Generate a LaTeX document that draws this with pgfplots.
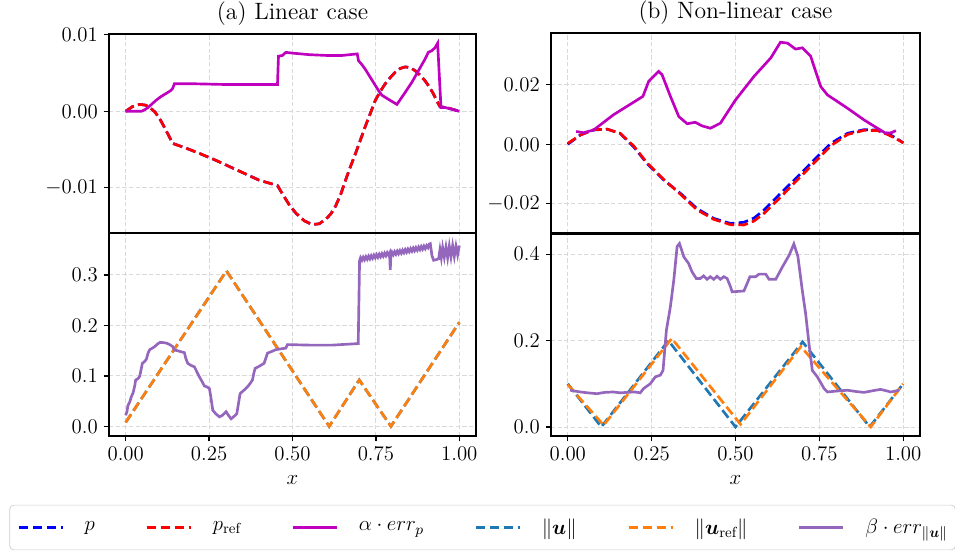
\documentclass[border=0pt]{standalone}
\usepackage{fix-cm}
\usepackage{fontspec}
\usepackage{amsmath}
\usepackage{bm}
\usepackage{pgfplots}
\pgfplotsset{compat=1.18}
\definecolor{mpblue}{HTML}{1F77B4}
\definecolor{mporange}{HTML}{FF7F0E}
\definecolor{mppurple}{HTML}{9467BD}
\definecolor{mpmag}{rgb}{0.75,0,0.75}
\newcommand\tfont{\fontsize{12.5}{15}\selectfont}
\pgfplotsset{
  panel/.style={
    scale only axis, anchor=south west,
    xmin=-0.05, xmax=1.05,
    xtick={0,0.25,0.5,0.75,1},
    scaled y ticks=false, scaled x ticks=false,
    grid=major, major grid style={dash pattern=on 2.5pt off 1.5pt, gray!30, line width=0.5pt},
    axis line style={line width=1.2pt},
    tick align=outside, tick pos=left,
    major tick length=3.2pt,
    tick style={line width=0.8pt, black},
    tick label style={font=\tfont},
    label style={font=\tfont},
    xlabel style={at={(0.5,0)}, anchor=base, yshift=-29pt},
  },
  top/.style={xticklabels={}, xtick style={draw=none}},
  bot/.style={xticklabels={$0.00$,$0.25$,$0.50$,$0.75$,$1.00$}, xlabel={$x$}},
  dl/.style={line width=1.6pt, dash pattern=on 5.8pt off 2.6pt},
  sl/.style={line width=1.6pt},
}
\begin{document}
\begin{tikzpicture}
\useasboundingbox (0,0) rectangle (573pt,331.2pt);
% ---------------- (a) top
\begin{axis}[panel, top, name=tl, at={(65.4pt,191.4pt)}, width=220.2pt, height=119.4pt,
  ymin=-0.0159, ymax=0.0101, ytick={-0.01,0,0.01}, yticklabels={$-0.01$,$0.00$,$0.01$}]
\addplot[blue, dl] coordinates {
(0,0) (0.02,0.0006) (0.042,0.0009) (0.06,0.0008) (0.075,0.0004) (0.088,-0.0001) (0.105,-0.0012)
(0.121,-0.0025) (0.141,-0.0042) (0.18,-0.0048) (0.221,-0.0055) (0.27,-0.0064) (0.32,-0.0074)
(0.36,-0.0082) (0.40,-0.0090) (0.455,-0.0097) (0.47,-0.0108) (0.49,-0.0122) (0.51,-0.0133)
(0.535,-0.0143) (0.559,-0.0148) (0.58,-0.0147) (0.60,-0.0141) (0.615,-0.0134) (0.629,-0.0124)
(0.645,-0.0108) (0.659,-0.0090) (0.674,-0.0072) (0.689,-0.0055) (0.704,-0.0037) (0.718,-0.0020)
(0.733,-0.0003) (0.748,0.0014) (0.763,0.0026) (0.778,0.0036) (0.793,0.0044) (0.808,0.0051)
(0.823,0.0056) (0.838,0.0058) (0.853,0.0057) (0.868,0.0053) (0.883,0.0047) (0.897,0.0040)
(0.91,0.0032) (0.922,0.0023) (0.932,0.0014) (0.942,0.0006) (0.962,0.0005) (1.0,0.0)};
\addplot[red, dl] coordinates {
(0,0) (0.02,0.0006) (0.042,0.0009) (0.06,0.0008) (0.075,0.0004) (0.088,-0.0001) (0.105,-0.0012)
(0.121,-0.0025) (0.141,-0.0042) (0.18,-0.0048) (0.221,-0.0055) (0.27,-0.0064) (0.32,-0.0074)
(0.36,-0.0082) (0.40,-0.0090) (0.455,-0.0097) (0.47,-0.0108) (0.49,-0.0122) (0.51,-0.0133)
(0.535,-0.0143) (0.559,-0.0148) (0.58,-0.0147) (0.60,-0.0141) (0.615,-0.0134) (0.629,-0.0124)
(0.645,-0.0108) (0.659,-0.0090) (0.674,-0.0072) (0.689,-0.0055) (0.704,-0.0037) (0.718,-0.0020)
(0.733,-0.0003) (0.748,0.0014) (0.763,0.0026) (0.778,0.0036) (0.793,0.0044) (0.808,0.0051)
(0.823,0.0056) (0.838,0.0058) (0.853,0.0057) (0.868,0.0053) (0.883,0.0047) (0.897,0.0040)
(0.91,0.0032) (0.922,0.0023) (0.932,0.0014) (0.942,0.0006) (0.962,0.0005) (1.0,0.0)};
\addplot[mpmag, sl] coordinates {
(0,0) (0.047,0.0) (0.057,0.0002) (0.067,0.0005) (0.08,0.0010) (0.09,0.0014) (0.105,0.0019)
(0.12,0.0023) (0.135,0.0027) (0.141,0.0030) (0.146,0.0036) (0.20,0.0036) (0.30,0.0035)
(0.40,0.0035) (0.455,0.0035) (0.458,0.0072) (0.47,0.0073) (0.48,0.0077) (0.50,0.0076)
(0.55,0.0074) (0.60,0.0073) (0.65,0.0073) (0.694,0.0075) (0.698,0.0066) (0.708,0.0061)
(0.718,0.0055) (0.738,0.0041) (0.758,0.0027) (0.768,0.0021) (0.79,0.0015) (0.813,0.0009)
(0.835,0.0023) (0.858,0.0038) (0.88,0.0055) (0.897,0.0068) (0.907,0.0077) (0.917,0.0079)
(0.927,0.0083) (0.935,0.0089) (0.945,0.0005) (0.957,0.0005) (1.0,0.0)};
\end{axis}
\node[anchor=base, font=\fontsize{14.2}{17}\selectfont] at ([yshift=8.5pt]tl.north) {(a) Linear case};
% ---------------- (a) bottom
\begin{axis}[panel, bot, at={(65.4pt,69.6pt)}, width=220.2pt, height=121.8pt,
  ymin=-0.019, ymax=0.383, ytick={0,0.1,0.2,0.3}, yticklabels={$0.0$,$0.1$,$0.2$,$0.3$}]
\addplot[mpblue, dl] coordinates {(0,0.008) (0.302,0.308) (0.61,0.0) (0.70,0.092) (0.795,0.0) (1.0,0.206)};
\addplot[mporange, dl] coordinates {(0,0.008) (0.302,0.308) (0.61,0.0) (0.70,0.092) (0.795,0.0) (1.0,0.206)};
\addplot[mppurple, sl] coordinates {
(0,0.022) (0.004,0.030) (0.007,0.042) (0.012,0.048) (0.017,0.059) (0.022,0.066) (0.027,0.080)
(0.030,0.092) (0.036,0.094) (0.042,0.099) (0.046,0.112) (0.050,0.125) (0.056,0.128) (0.062,0.133)
(0.067,0.145) (0.072,0.152) (0.080,0.155) (0.087,0.158) (0.095,0.163) (0.102,0.166) (0.112,0.166)
(0.122,0.165) (0.132,0.162) (0.141,0.158) (0.146,0.151) (0.155,0.150) (0.165,0.148) (0.176,0.146)
(0.180,0.135) (0.186,0.125) (0.195,0.121) (0.206,0.118) (0.212,0.110) (0.221,0.098) (0.228,0.090)
(0.236,0.080) (0.244,0.078) (0.251,0.075) (0.256,0.055) (0.261,0.032) (0.270,0.025) (0.281,0.019)
(0.290,0.022) (0.301,0.029) (0.308,0.022) (0.316,0.015) (0.325,0.020) (0.333,0.025) (0.338,0.045)
(0.343,0.065) (0.355,0.072) (0.366,0.079) (0.373,0.085) (0.380,0.092) (0.384,0.105) (0.388,0.115)
(0.400,0.119) (0.415,0.125) (0.420,0.135) (0.425,0.145) (0.440,0.149) (0.450,0.152) (0.470,0.154)
(0.480,0.155) (0.485,0.162) (0.55,0.161) (0.62,0.161) (0.697,0.164) (0.701,0.328)
(0.704,0.334) (0.708,0.329) (0.712,0.335) (0.716,0.330) (0.720,0.336) (0.724,0.331) (0.728,0.337)
(0.732,0.332) (0.736,0.338) (0.740,0.333) (0.744,0.339) (0.748,0.334) (0.752,0.340) (0.756,0.335)
(0.760,0.341) (0.764,0.336) (0.768,0.342) (0.772,0.337) (0.776,0.343) (0.780,0.338) (0.784,0.344)
(0.788,0.339) (0.791,0.343) (0.793,0.310) (0.795,0.340) (0.798,0.345) (0.802,0.340) (0.806,0.346)
(0.810,0.341) (0.814,0.347) (0.818,0.342) (0.822,0.348) (0.826,0.343) (0.830,0.349) (0.834,0.344)
(0.838,0.350) (0.842,0.345) (0.846,0.351) (0.850,0.346) (0.854,0.352) (0.858,0.347) (0.862,0.353)
(0.866,0.348) (0.870,0.354) (0.874,0.349) (0.878,0.355) (0.882,0.350) (0.886,0.356) (0.890,0.351)
(0.894,0.357) (0.898,0.352) (0.902,0.358) (0.906,0.354) (0.910,0.361) (0.913,0.362)
(0.918,0.338) (0.923,0.329) (0.930,0.330) (0.938,0.332) (0.942,0.350) (0.946,0.334) (0.950,0.354)
(0.955,0.335) (0.960,0.355) (0.965,0.334) (0.970,0.357) (0.975,0.336) (0.980,0.358) (0.985,0.337)
(0.990,0.357) (0.995,0.340) (1.0,0.358)};
\end{axis}
% ---------------- (b) top
\begin{axis}[panel, top, name=tr, at={(330.6pt,191.4pt)}, width=221.4pt, height=120pt,
  ymin=-0.0298, ymax=0.0374, ytick={-0.02,0,0.02}, yticklabels={$-0.02$,$0.00$,$0.02$}]
\addplot[blue, dl] coordinates {
(0,0) (0.037,0.0031) (0.077,0.0048) (0.117,0.0051) (0.156,0.0037) (0.196,-0.0008) (0.236,-0.0064)
(0.286,-0.0120) (0.336,-0.0165) (0.385,-0.0216) (0.435,-0.0249) (0.485,-0.0266) (0.525,-0.0262)
(0.555,-0.0248) (0.585,-0.0221) (0.634,-0.0165) (0.684,-0.0110) (0.734,-0.0053) (0.784,0.0003)
(0.834,0.0037) (0.883,0.0049) (0.923,0.0048) (0.953,0.0037) (0.98,0.0020) (1.0,0.0005)};
\addplot[red, dl] coordinates {
(0,0.0003) (0.037,0.0031) (0.077,0.0049) (0.117,0.0051) (0.156,0.0037) (0.196,-0.0005) (0.236,-0.0062)
(0.286,-0.0118) (0.336,-0.0168) (0.385,-0.0220) (0.435,-0.0252) (0.485,-0.0270) (0.525,-0.0271)
(0.555,-0.0258) (0.585,-0.0232) (0.634,-0.0178) (0.684,-0.0120) (0.734,-0.0063) (0.784,-0.0005)
(0.834,0.0033) (0.883,0.0047) (0.923,0.0046) (0.953,0.0033) (0.98,0.0018) (1.0,0.0005)};
\addplot[mpmag, sl] coordinates {
(0.025,0.0043) (0.047,0.0039) (0.077,0.0048) (0.136,0.0099) (0.224,0.0161) (0.241,0.0211)
(0.271,0.0245) (0.281,0.0234) (0.306,0.0161) (0.331,0.0093) (0.356,0.0069) (0.38,0.0074)
(0.40,0.0062) (0.425,0.0054) (0.455,0.0071) (0.5,0.0149) (0.555,0.0228) (0.605,0.0290)
(0.634,0.0343) (0.655,0.0340) (0.679,0.0320) (0.699,0.0324) (0.724,0.0296) (0.754,0.0194)
(0.774,0.0166) (0.834,0.0121) (0.883,0.0082) (0.923,0.0054) (0.948,0.0037) (0.965,0.0039) (0.978,0.0046)};
\end{axis}
\node[anchor=base, font=\fontsize{14.2}{17}\selectfont] at ([yshift=8.5pt]tr.north) {(b) Non-linear case};
% ---------------- (b) bottom
\begin{axis}[panel, bot, at={(330.6pt,69.6pt)}, width=221.4pt, height=121.2pt,
  ymin=-0.021, ymax=0.447, ytick={0,0.2,0.4}, yticklabels={$0.0$,$0.2$,$0.4$},
  legend columns=6, legend cell align=left,
  legend image code/.code={\draw[#1] (0pt,0pt) -- (26.4pt,0pt);},
  legend style={at={(-0.1855,-0.453)}, anchor=center, draw=black!20, rounded corners=2.5pt,
    font=\tfont, inner xsep=4.5pt, inner ysep=8pt,
    nodes={inner sep=0pt},
    /tikz/every odd column/.append style={column sep=12.5pt},
    /tikz/every even column/.append style={column sep=30.2pt}}]
\addlegendimage{blue, dl}\addlegendentry{$p$}
\addlegendimage{red, dl}\addlegendentry{$p_{\mathrm{ref}}$}
\addlegendimage{mpmag, sl}\addlegendentry{$\alpha\cdot err_p$}
\addlegendimage{mpblue, dl}\addlegendentry{$\|\bm{u}\|$}
\addlegendimage{mporange, dl}\addlegendentry{$\|\bm{u}_{\mathrm{ref}}\|$}
\addlegendimage{mppurple, sl}\addlegendentry{$\beta\cdot err_{\|\bm{u}\|}$}
\addplot[mpblue, dl, forget plot] coordinates {(0,0.1) (0.1,0) (0.3,0.2) (0.5,0) (0.7,0.197) (0.9,0) (1,0.1)};
\addplot[mporange, dl, forget plot] coordinates {(0,0.098) (0.107,0.004) (0.31,0.205) (0.515,0.006) (0.695,0.186) (0.903,0.0) (1,0.1)};
\addplot[mppurple, sl, forget plot] coordinates {
(0.007,0.085) (0.037,0.081) (0.06,0.079) (0.087,0.077) (0.11,0.080) (0.136,0.081) (0.155,0.079)
(0.176,0.080) (0.2,0.081) (0.216,0.079) (0.226,0.089) (0.246,0.100) (0.261,0.116) (0.276,0.120)
(0.284,0.131) (0.294,0.224) (0.306,0.279) (0.316,0.340) (0.326,0.418) (0.333,0.425) (0.346,0.394)
(0.360,0.379) (0.370,0.360) (0.383,0.344) (0.395,0.344) (0.405,0.350) (0.415,0.342) (0.425,0.348)
(0.435,0.342) (0.445,0.349) (0.455,0.342) (0.465,0.348) (0.475,0.344) (0.485,0.325) (0.490,0.313)
(0.525,0.315) (0.535,0.333) (0.543,0.348) (0.560,0.348) (0.570,0.354) (0.590,0.354) (0.600,0.342)
(0.620,0.342) (0.640,0.371) (0.660,0.398) (0.674,0.424) (0.686,0.395) (0.699,0.317) (0.709,0.263)
(0.719,0.193) (0.729,0.131) (0.744,0.116) (0.764,0.089) (0.774,0.081) (0.80,0.083) (0.834,0.085)
(0.86,0.082) (0.883,0.080) (0.91,0.084) (0.933,0.087) (0.963,0.081) (0.988,0.085)};
\end{axis}
\end{tikzpicture}
\end{document}
